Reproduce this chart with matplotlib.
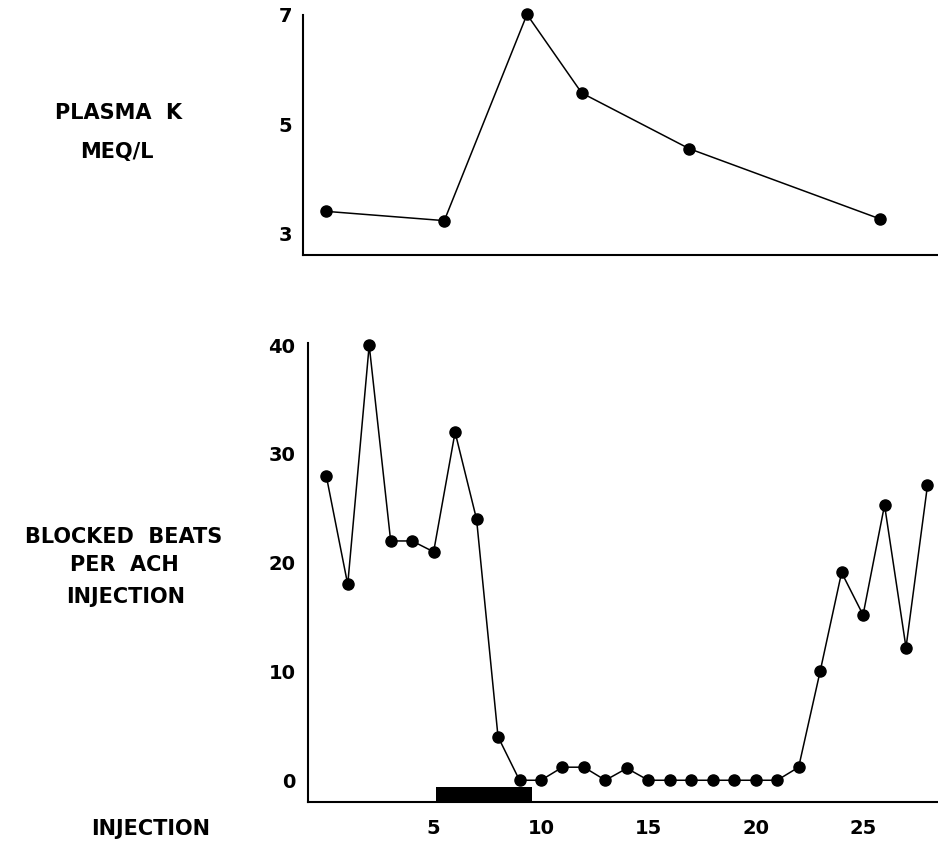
import numpy as np
import matplotlib
matplotlib.use('Agg')
import matplotlib.pyplot as plt

# plasma potassium (top panel), positions in injection units
k_inj = [0, 5.5, 9.35, 11.9, 16.9, 25.8]
k_meq = [3.40, 3.23, 7.01, 5.57, 4.55, 3.26]

# blocked beats per ACh injection (bottom panel)
injection = list(range(29))
blocked = [28, 18, 40, 22, 22, 21, 32, 24, 4, 0, 0, 1.2, 1.2, 0, 1.1,
           0, 0, 0, 0, 0, 0, 0, 1.2, 10, 19.1, 15.2, 25.3, 12.2, 27.1]

# black bar under the curve (treatment period)
bar_start = 5.1
bar_end = 9.6

x_ticks = [5, 10, 15, 20, 25]
x_ticklabels = ['5', '10', '15', '20', '25']
k_ticks = [3, 5, 7]
b_ticks = [0, 10, 20, 30, 40]

font_lab = {'family': 'DejaVu Sans', 'weight': 'bold', 'size': 15}
font_tick = {'family': 'DejaVu Sans', 'weight': 'bold', 'size': 14}

fig = plt.figure(figsize=(9.38, 8.41), dpi=100)

#---------top panel-------
ax1 = fig.add_axes([303/938, 1-255/841, (938-303)/938, (255-15)/841])
ax1.plot(k_inj, k_meq, color='k', linewidth=1.1, marker='o', ms=8, clip_on=False)
ax1.set_xlim(-1.08, 28.49)
ax1.set_ylim(2.6, 7.0)
ax1.set_xticks([])
ax1.set_yticks(k_ticks)
ax1.set_yticklabels([str(t) for t in k_ticks], fontdict=font_tick)

#---------bottom panel-------
ax2 = fig.add_axes([308/938, 1-802/841, (938-308)/938, (802-343)/841])
ax2.plot(injection, blocked, color='k', linewidth=1.1, marker='o', ms=8, clip_on=False)
ax2.fill_between([bar_start, bar_end], -2.0, -0.6, color='k', linewidth=0)
ax2.set_xlim(-0.85, 28.49)
ax2.set_ylim(-2.0, 40.2)
ax2.set_xticks(x_ticks)
ax2.set_xticklabels(x_ticklabels, fontdict=font_tick)
ax2.set_yticks(b_ticks)
ax2.set_yticklabels([str(t) for t in b_ticks], fontdict=font_tick)

for ax in (ax1, ax2):
    ax.spines['top'].set_visible(False)
    ax.spines['right'].set_visible(False)
    ax.spines['left'].set_linewidth(1.5)
    ax.spines['bottom'].set_linewidth(1.5)
    ax.patch.set_alpha(0)
ax1.tick_params(axis='y', length=0, pad=8)
ax2.tick_params(axis='y', length=0, pad=9)
ax2.tick_params(axis='x', length=0, pad=12)

# axis labels, written as free text like the original lettering
fig.text(119/938, 1-113/841, "PLASMA  K", ha='center', va='center', fontdict=font_lab)
fig.text(117/938, 1-152/841, "MEQ/L", ha='center', va='center', fontdict=font_lab)
fig.text(124/938, 1-537/841, "BLOCKED  BEATS", ha='center', va='center', fontdict=font_lab)
fig.text(124/938, 1-565/841, "PER  ACH", ha='center', va='center', fontdict=font_lab)
fig.text(126/938, 1-597/841, "INJECTION", ha='center', va='center', fontdict=font_lab)
fig.text(151/938, 1-829/841, "INJECTION", ha='center', va='center', fontdict=font_lab)

plt.savefig('out.png', dpi=100)
print("plot success!")
